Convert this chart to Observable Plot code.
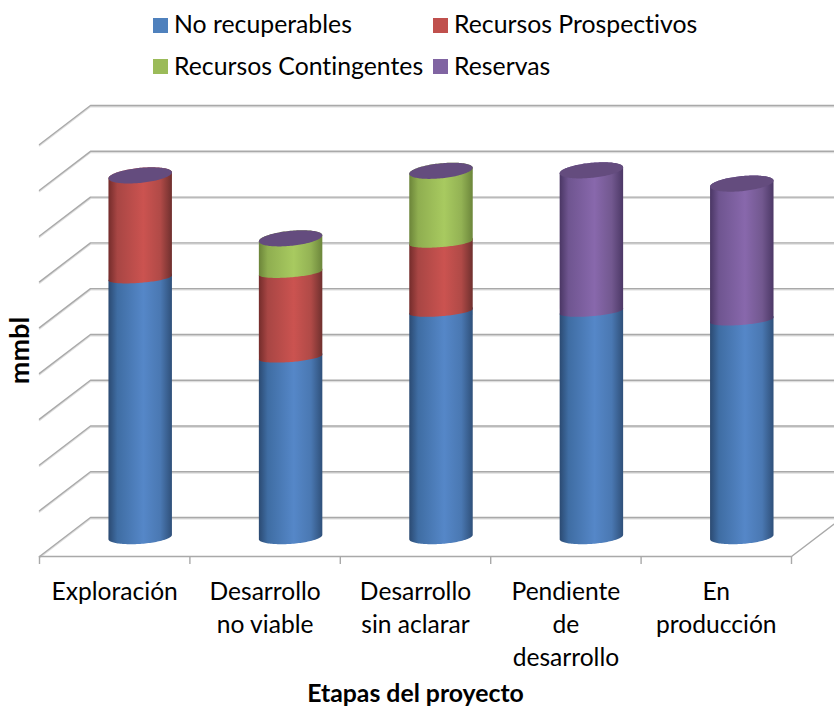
<!DOCTYPE html>
<html><head><meta charset="utf-8">
<script src="https://cdn.jsdelivr.net/npm/d3@7"></script>
<script src="https://cdn.jsdelivr.net/npm/@observablehq/plot@0.6"></script>
<style>
html,body{margin:0;padding:0;background:#fff}
#legend{position:relative;width:834px;height:88px;font-family:Lato,sans-serif;font-size:24.8px;color:#000;font-variant-ligatures:none}
#legend span{position:absolute;white-space:nowrap;line-height:30px}
#legend i{position:absolute;width:15px;height:15px}
svg{display:block;font-variant-ligatures:none}
</style></head><body>
<div id="legend"></div>
<div id="chart"></div>
<script>
const categories = ["Exploración","Desarrollo\nno viable","Desarrollo\nsin aclarar","Pendiente\nde\ndesarrollo","En\nproducción"];
const seriesNames = ["No recuperables","Recursos Prospectivos","Recursos Contingentes","Reservas"];
const noRecuperables = [5.66,3.93,4.93,4.93,4.74];
const recursosProspectivos = [2.24,1.85,1.51,0,0];
const recursosContingentes = [0,0.745,1.56,0,0];
const reservas = [0,0,0,3.08,2.98];
const gridLevels = [0,1,2,3,4,5,6,7,8,9];
const legendColors = ["#4f81bd","#c0504d","#9bbb59","#8064a2"];
const shades = [
  ["#2b4a72","#3f6da3","#5587c8","#4a78b2","#2f507a"],
  ["#742c2b","#a84644","#cb5350","#b04a47","#6f302e"],
  ["#6b8439","#8fae50","#a8ca60","#93b254","#6c863b"],
  ["#4a3664","#6f5590","#8868ac","#72588f","#4c3866"]
];
const capColor = "#644c7e";
const allSeries = [noRecuperables,recursosProspectivos,recursosContingentes,reservas];

// 3-D projection, in data units (categories across, mmbl up)
const depthX = 0.339, depthY = 0.851;
const rx = 0.211;
const capRim = {ry: 0.164, shear: 0.0655};
const innerRim = {ry: 0.107, shear: 0.0546};
const baseRim = {ry: 0.150, shear: 0.047};
const centerX = i => i + 0.5 + depthX / 2;
const angles = d3.range(0, 61).map(k => k * Math.PI / 60);

const ring = (i, v, t, rim) => ({x: centerX(i) + rx * Math.cos(t), y: v + depthY / 2 + rim.shear * Math.cos(t) - rim.ry * Math.sin(t)});
const cumul = categories.map(() => 0);
const bodies = allSeries.map(vals => {
  const pts = [];
  vals.forEach((val, i) => {
    const lo = cumul[i], hi = lo + val;
    cumul[i] = hi;
    if (!val) return;
    const rim = lo === 0 ? baseRim : innerRim;
    angles.forEach(t => pts.push({...ring(i, lo, t, rim), z: i}));              // front of lower rim
    [...angles].reverse().forEach(t => pts.push({...ring(i, hi, -t, capRim), z: i})); // back of upper rim
  });
  return pts;
});
const caps = [];
cumul.forEach((v, i) => {
  angles.forEach(t => caps.push({...ring(i, v, t, capRim), z: i}));
  [...angles].reverse().forEach(t => caps.push({...ring(i, v, -t, capRim), z: i}));
});

const gridPaths = gridLevels.flatMap(v => [
  {x: 0, y: v, z: v},
  {x: depthX, y: v + depthY, z: v},
  {x: 5 + depthX, y: v + depthY, z: v}
]);
const floorEdges = [
  {x: 0, y: 0, z: "f"}, {x: 5, y: 0, z: "f"}, {x: 5 + depthX, y: depthY, z: "f"}
];

const defs = () => {
  const d = d3.create("svg:defs");
  shades.forEach((c, s) => {
    const g = d.append("linearGradient").attr("id", "cyl" + s).attr("x1", 0).attr("x2", 1).attr("y1", 0).attr("y2", 0);
    [0, .14, .55, .82, 1].forEach((o, k) => g.append("stop").attr("offset", o).attr("stop-color", c[k]));
  });
  return d.node();
};

const font = "Lato, sans-serif";
const gray = "#a9a9a9";
const plot = Plot.plot({
  width: 834, height: 618,
  marginLeft: 39, marginRight: 43, marginTop: 56, marginBottom: 150,
  style: {background: "#fff", fontFamily: font, color: "#000"},
  x: {type: "linear", domain: [0, 5], axis: null},
  y: {type: "linear", domain: [0, 9], axis: null},
  marks: [
    defs,
    Plot.line(gridPaths, {x: "x", y: "y", z: "z", stroke: "#dedede", strokeWidth: 1.5, dy: 1.2}),
    Plot.line(gridPaths, {x: "x", y: "y", z: "z", stroke: gray, strokeWidth: 1.4}),
    Plot.line(floorEdges, {x: "x", y: "y", z: "z", stroke: gray, strokeWidth: 1.4}),
    Plot.axisX({ticks: [0,1,2,3,4,5], tickSize: 8, tickFormat: () => "", stroke: gray, strokeWidth: 1.4, label: null}),
    ...bodies.map((pts, s) => Plot.line(pts, {x: "x", y: "y", z: "z", fill: `url(#cyl${s})`, stroke: "none"})),
    Plot.line(caps, {x: "x", y: "y", z: "z", fill: capColor, stroke: "none"}),
    Plot.text(categories, {x: (d, i) => i + 0.5, y: () => 0, text: d => d, lineAnchor: "top", dy: 20, fontSize: 24.6, lineHeight: 1.34, fill: "#000"}),
    Plot.text(["Etapas del proyecto"], {frameAnchor: "bottom", dy: 145, fontSize: 24.8, fontWeight: "bold", fill: "#000"}),
    Plot.text(["mmbl"], {frameAnchor: "left", dx: -19, textAnchor: "middle", rotate: -90, fontSize: 27, fontWeight: "bold", fill: "#000"})
  ]
});
document.getElementById("chart").append(plot);

const legend = document.getElementById("legend");
const slots = [[153,18,174,9],[433,18,454,9],[153,59,174,51],[433,59,454,51]];
seriesNames.forEach((n, k) => {
  const [sx, sy, tx, ty] = slots[k];
  const sw = document.createElement("i");
  sw.style.cssText = `left:${sx}px;top:${sy}px;background:${legendColors[k]}`;
  const t = document.createElement("span");
  t.textContent = n;
  t.style.cssText = `left:${tx}px;top:${ty}px`;
  legend.append(sw, t);
});
</script>
</body></html>
